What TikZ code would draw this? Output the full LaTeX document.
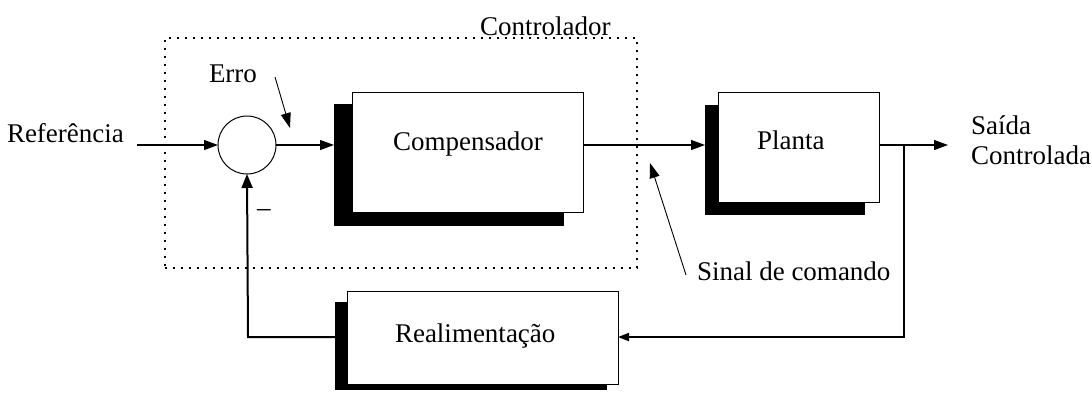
\documentclass[tikz,border=0pt]{standalone}
\usepackage{fontspec}
\setmainfont{Liberation Serif}
\usetikzlibrary{arrows.meta}
\begin{document}
\begin{tikzpicture}[x=1pt,y=-1pt,
  every node/.style={inner sep=0pt,outer sep=0pt},
  txt/.style={anchor=base west,font=\fontsize{27}{29}\selectfont},
  blockbox/.style={draw=black,line width=1pt,fill=white,anchor=north west},
  blockshadow/.style={fill=black,draw=none,anchor=north west},
  sig/.style={line width=1.2pt,-{Triangle[length=14pt,width=10pt]}},
  fb/.style={line width=2pt},
  pointer/.style={line width=0.9pt,-{Triangle[length=15pt,width=10pt]}},
  groupbox/.style={line width=1.5pt,dash pattern=on 1.6pt off 6.4pt}]
\useasboundingbox (0,0) rectangle (1092,392);

% controller group (dotted frame)
\node[groupbox,draw,anchor=north west,minimum width=472pt,minimum height=230pt] (ctrl) at (165,38) {};
\node[txt] (ctrllbl) at (480,35) {Controlador};

% summing junction
\node[draw,circle,line width=1pt,minimum size=58pt] (sum) at (247,145) {};

% blocks: black shadow first, white box on top
\node[blockshadow,minimum width=230pt,minimum height=122pt] (compsh) at (334,104) {};
\node[blockbox,minimum width=231pt,minimum height=120pt] (comp) at (352,92) {};
\node[txt] (complbl) at (393,150) {Compensador};

\node[blockshadow,minimum width=160pt,minimum height=110pt] (plantsh) at (705,105) {};
\node[blockbox,minimum width=161pt,minimum height=110pt] (plant) at (718,92) {};
\node[txt] (plantlbl) at (757,149) {Planta};

\node[blockshadow,minimum width=272pt,minimum height=88pt] (realsh) at (335,302) {};
\node[blockbox,minimum width=271pt,minimum height=93pt] (real) at (347,291) {};
\node[txt] (reallbl) at (395,342) {Realimentação};

% labels
\node[txt] (reflbl) at (7,142) {Referência};
\node[txt] (errlbl) at (209,82) {Erro};
\node[txt] (cmdlbl) at (697,280) {Sinal de comando};
\node[txt] (outlbl1) at (971,134) {Saída};
\node[txt] (outlbl2) at (971,164) {Controlada};
\node[txt] (minus) at (257,216) {–};

% free ends and corners
\coordinate (refin) at (137,145);
\coordinate (out) at (948,145);
\coordinate (branch) at (904,145);
\coordinate (fbright) at (904,337);
\coordinate (fbleft) at (248,337);
\coordinate (errtail) at (275,77);
\coordinate (errtip) at (290,128);
\coordinate (cmdtail) at (686,275);
\coordinate (cmdtip) at (650,163);

% forward path
\draw[sig] (refin) -- (sum.west);
\draw[sig] (sum.east) -- (compsh.west |- sum.east);
\draw[sig] (comp.east |- sum.east) -- (plantsh.west |- sum.east);
\draw[sig] (plant.east |- sum.east) -- (out);

% feedback path
\draw[fb,-{Triangle[length=11pt,width=8pt]}] (branch) -- (fbright) -- (real.east |- fbright);
\draw[fb,-{Triangle[length=14pt,width=11pt]}] (realsh.west |- fbleft) -- (fbleft) -- (sum.south);

% pointer arrows
\draw[pointer] (errtail) -- (errtip);
\draw[pointer] (cmdtail) -- (cmdtip);
\end{tikzpicture}
\end{document}
